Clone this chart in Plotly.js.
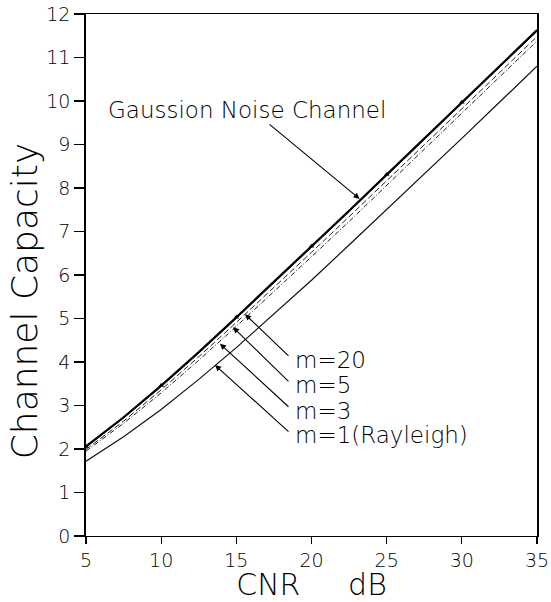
<!DOCTYPE html>
<html>
<head>
<meta charset="utf-8">
<script src="https://cdn.plot.ly/plotly-3.0.1.min.js"></script>
<style>html,body{margin:0;padding:0;background:#fff;}#chart{width:551px;height:602px;}</style>
</head>
<body>
<div id="chart"></div>
<script>
// CNR in dB
const cnr = [5, 7.5, 10, 12.5, 15, 17.5, 20, 22.5, 25, 27.5, 30, 32.5, 35];
// Channel capacity
const gaussian = [2.06, 2.73, 3.46, 4.23, 5.03, 5.84, 6.66, 7.48, 8.31, 9.14, 9.97, 10.80, 11.63];
const m20 = [2.04, 2.71, 3.43, 4.20, 5.00, 5.81, 6.63, 7.45, 8.28, 9.11, 9.94, 10.77, 11.60];
const m5 = [1.99, 2.64, 3.36, 4.12, 4.91, 5.71, 6.52, 7.34, 8.16, 8.99, 9.82, 10.65, 11.48];
const m3 = [1.95, 2.59, 3.29, 4.04, 4.82, 5.61, 6.42, 7.23, 8.06, 8.89, 9.72, 10.55, 11.38];
const m1 = [1.72, 2.28, 2.91, 3.60, 4.33, 5.10, 5.88, 6.69, 7.50, 8.32, 9.14, 9.97, 10.80];
// small marks on the Gaussian curve
const markX = [5, 10, 15, 20, 25, 30];
const markY = [2.06, 3.46, 5.03, 6.66, 8.31, 9.97];
// labels
const xTicks = [5, 10, 15, 20, 25, 30, 35];
const yTicks = [0, 1, 2, 3, 4, 5, 6, 7, 8, 9, 10, 11, 12];
const labelGauss = "Gaussion Noise Channel";
const labelsM = ["m=20", "m=5", "m=3", "m=1(Rayleigh)"];
const xTitle = "CNR\u00a0\u00a0\u00a0\u00a0\u00a0dB";
const yTitle = "Channel Capacity";

const FONT = "DejaVu Sans, Liberation Sans, sans-serif";

const traces = [
  {x: cnr, y: m1, mode: "lines", line: {color: "#111", width: 1.2}, name: labelsM[3]},
  {x: cnr, y: m3, mode: "lines", line: {color: "#222", width: 1, dash: "5px,2px,1px,2px"}, name: labelsM[2]},
  {x: cnr, y: m5, mode: "lines", line: {color: "#222", width: 1, dash: "6px,3px"}, name: labelsM[1]},
  {x: cnr, y: m20, mode: "lines", line: {color: "#111", width: 1}, name: labelsM[0]},
  {x: cnr, y: gaussian, mode: "lines", line: {color: "#000", width: 2}, name: labelGauss},
  {x: markX, y: markY, mode: "markers", marker: {symbol: "triangle-up", size: 5, color: "#000"}, hoverinfo: "skip"}
];

function arrow(x, y, ax, ay) {
  return {x: x, y: y, ax: ax, ay: ay, xref: "x", yref: "y", axref: "x", ayref: "y",
    text: "", showarrow: true, arrowhead: 2, arrowsize: 1.1, arrowwidth: 1.1, arrowcolor: "#000"};
}
function label(t, x, y, size) {
  return {x: x, y: y, xref: "x", yref: "y", text: t, showarrow: false, xanchor: "left", yanchor: "middle",
    font: {family: FONT, size: size, color: "#000", weight: 200}};
}

const annotations = [
  label(labelGauss, 6.35, 9.80, 23),
  arrow(23.2, 7.75, 17.11, 9.49),
  arrow(15.58, 5.10, 18.57, 4.11),
  arrow(14.78, 4.80, 18.57, 3.52),
  arrow(13.91, 4.42, 18.57, 2.94),
  arrow(13.58, 3.93, 18.57, 2.37),
  label(labelsM[0], 18.75, 4.05, 23),
  label(labelsM[1], 18.75, 3.47, 23),
  label(labelsM[2], 18.75, 2.88, 23),
  label(labelsM[3], 18.75, 2.32, 23),
  // y-axis title (rotated text, slightly below the axis centre as in the reference)
  {x: -0.137, y: 0.45, xref: "paper", yref: "paper", text: yTitle, textangle: -90, showarrow: false,
    xanchor: "center", yanchor: "middle", font: {family: FONT, size: 36, color: "#000", weight: 200}}
];

const layout = {
  width: 551, height: 602,
  margin: {l: 86, r: 14, t: 14, b: 66},
  paper_bgcolor: "#fff", plot_bgcolor: "#fff",
  showlegend: false,
  font: {family: FONT, color: "#000"},
  xaxis: {
    range: [5, 35], tickvals: xTicks, ticks: "outside", ticklen: 7, tickwidth: 1.2, tickcolor: "#000",
    showline: true, linecolor: "#000", linewidth: 1.2, mirror: true, showgrid: false, zeroline: false,
    tickfont: {family: FONT, size: 19, color: "#000", weight: 200},
    title: {text: xTitle, font: {family: FONT, size: 30, color: "#000", weight: 200}, standoff: 9}
  },
  yaxis: {
    range: [0, 12], tickvals: yTicks, ticks: "outside", ticklen: 10, tickwidth: 1.2, tickcolor: "#000",
    showline: true, linecolor: "#000", linewidth: 1.8, mirror: true, showgrid: false, zeroline: false,
    tickfont: {family: FONT, size: 19, color: "#000", weight: 200}
  },
  annotations: annotations
};

Plotly.newPlot("chart", traces, layout, {staticPlot: true, displayModeBar: false});
</script>
</body>
</html>
